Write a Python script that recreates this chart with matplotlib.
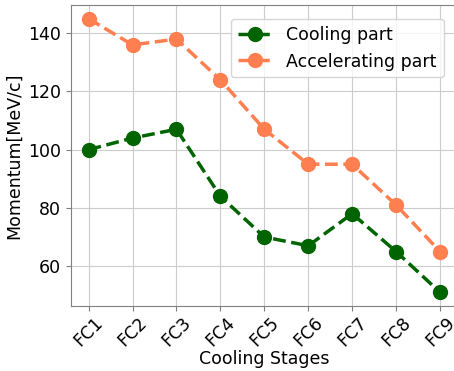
import matplotlib
matplotlib.use("Agg")
import matplotlib.pyplot as plt

stages = ["FC1", "FC2", "FC3", "FC4", "FC5", "FC6", "FC7", "FC8", "FC9"]
cooling = [100, 104, 107, 84, 70, 67, 78, 65, 51]
accelerating = [145, 136, 138, 124, 107, 95, 95, 81, 65]

fig = plt.figure(figsize=(4.54, 3.71), dpi=100)
ax = fig.add_axes([71/454, 65/371, (457.6-71)/454, (306-5)/371])
x = list(range(len(stages)))
ax.plot(x, cooling, "--o", color="darkgreen", lw=2.5, ms=10, label="Cooling part")
ax.plot(x, accelerating, "--o", color="coral", lw=2.5, ms=10, label="Accelerating part")
ax.set_xticks(x)
ax.set_xticklabels(stages, rotation=45, fontsize=12.5)
ax.set_yticks([60, 80, 100, 120, 140])
ax.tick_params(axis="y", labelsize=12.5)
ax.tick_params(axis="x", pad=2)
ax.set_xlabel("Cooling Stages", fontsize=12.5, labelpad=0)
ax.set_ylabel("Momentum[MeV/c]", fontsize=12.5)
ax.grid(True, color="#cccccc", lw=0.8)
for s in ax.spines.values():
    s.set_color("#808080")
ax.tick_params(color="#808080")
ax.legend(loc="upper right", fontsize=12.5, borderaxespad=0.8)
fig.savefig("out.png", dpi=100)
